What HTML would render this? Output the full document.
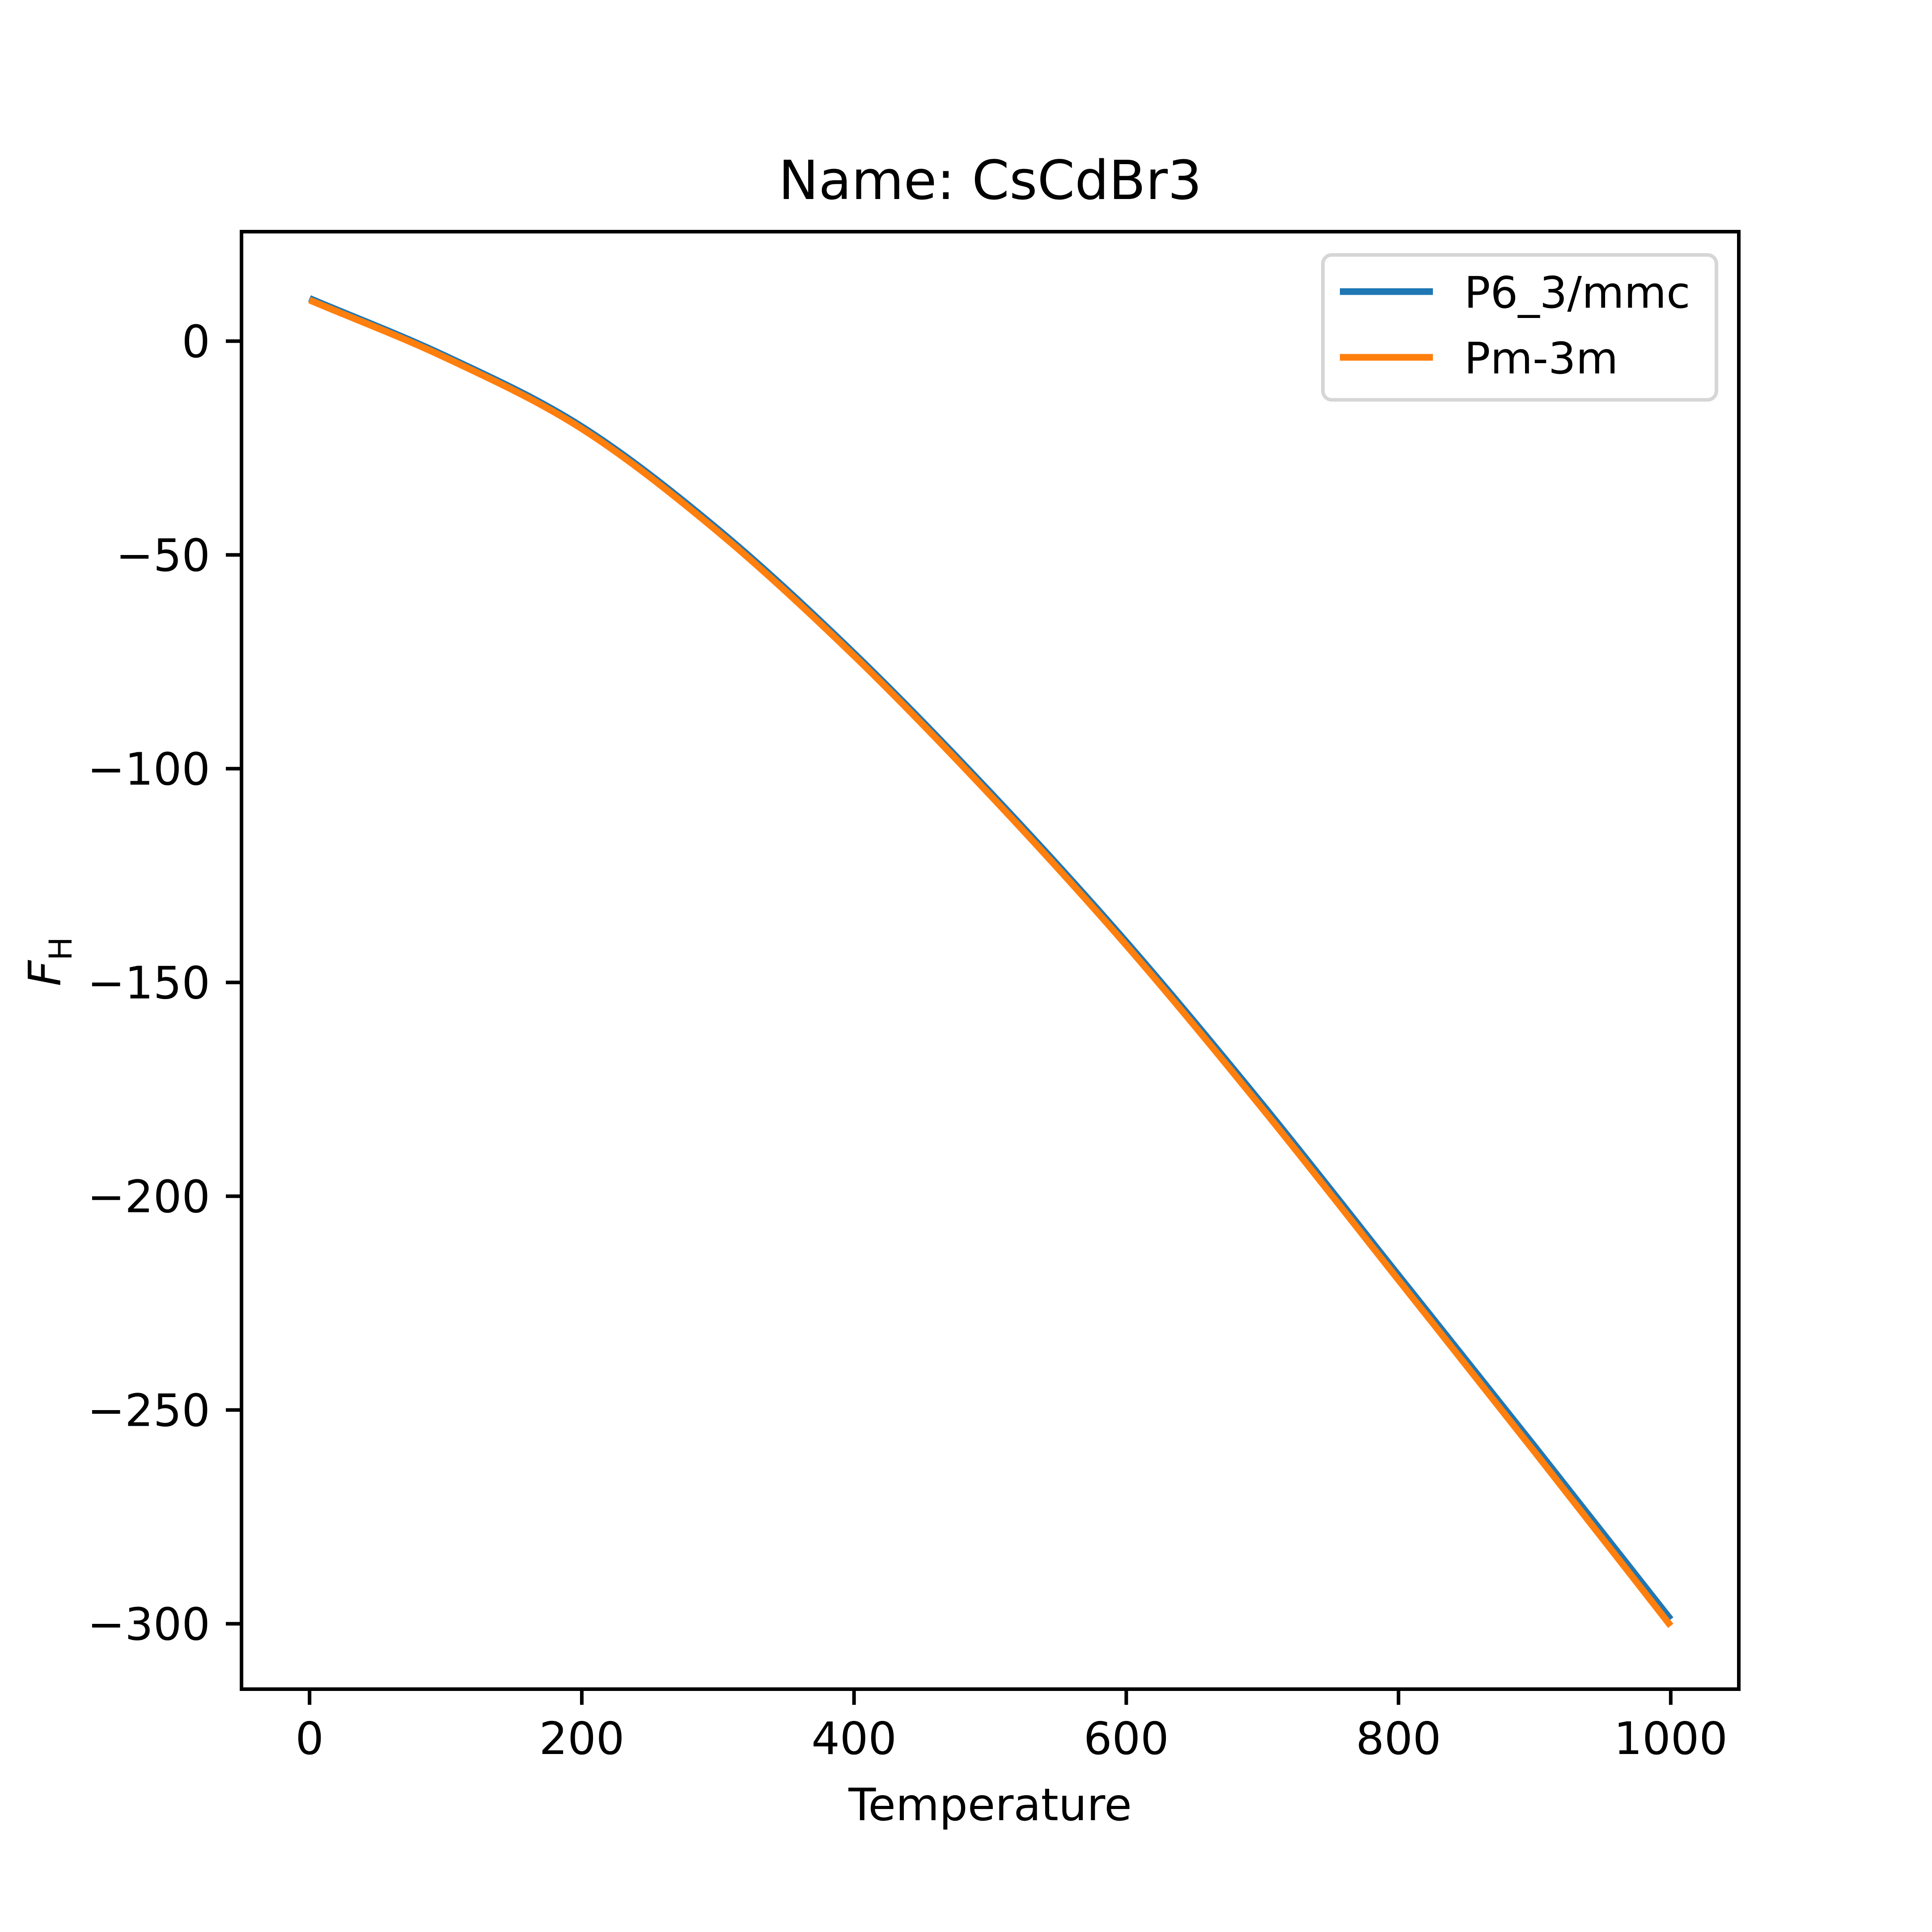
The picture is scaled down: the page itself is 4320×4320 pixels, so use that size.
<!DOCTYPE html>
<html><head><meta charset="utf-8"><style>
html,body{margin:0;padding:0;background:#fff;}
svg{display:block;font-family:"DejaVu Sans","Liberation Sans",sans-serif;}
</style></head><body>
<svg id="chart" width="4320" height="4320" viewBox="0 0 4320 4320" xmlns="http://www.w3.org/2000/svg">
<rect width="4320" height="4320" fill="#fff"/>
<text x="2214" y="445" font-size="120" text-anchor="middle">Name: CsCdBr3</text>
<g id="plot"></g>
<text x="2214" y="4070" font-size="100" text-anchor="middle">Temperature</text>
<text transform="translate(135,2150) rotate(-90)" font-size="100" text-anchor="middle"><tspan font-style="italic">F</tspan><tspan font-size="70" dy="25">H</tspan></text>
</svg>
<script>
const temps = [0,100,200,300,400,500,600,700,800,900,1000];
const blueVals = [10,-3.5,-20,-44,-73,-105.5,-140.5,-178.5,-218.5,-258.5,-299];
const orangeVals = [9.6,-3.9,-20.5,-44.6,-73.6,-106.2,-141.3,-179.5,-219.6,-259.8,-300.5];
const xTicks = [0,200,400,600,800,1000];
const yTicks = [0,-50,-100,-150,-200,-250,-300];
const seriesNames = ["P6_3/mmc","Pm-3m"];

const L=540,R=3888,T=518,B=3777;
const xMin=-50,xMax=1050,yMin=-315.3,yMax=25.6;
const sx=v=>L+(v-xMin)/(xMax-xMin)*(R-L);
const sy=v=>B-(v-yMin)/(yMax-yMin)*(B-T);
const NS="http://www.w3.org/2000/svg";
const g=document.getElementById('plot');
function mk(tag,attrs,parent){const e=document.createElementNS(NS,tag);for(const k in attrs)e.setAttribute(k,attrs[k]);(parent||g).appendChild(e);return e;}

function smoothPath(xs,ys){
  const p=xs.map((x,i)=>[sx(x),sy(ys[i])]);
  let d=`M${p[0][0]},${p[0][1]}`;
  for(let i=0;i<p.length-1;i++){
    const p0=p[i-1]||p[i],p1=p[i],p2=p[i+1],p3=p[i+2]||p[i+1];
    const k0=p[i-1]?6:3,k1=p[i+2]?6:3;
    const c1=[p1[0]+(p2[0]-p0[0])/k0,p1[1]+(p2[1]-p0[1])/k0];
    const c2=[p2[0]-(p3[0]-p1[0])/k1,p2[1]-(p3[1]-p1[1])/k1];
    d+=` C${c1[0]},${c1[1]} ${c2[0]},${c2[1]} ${p2[0]},${p2[1]}`;
  }
  return d;
}

let bl=mk('path',{d:smoothPath(temps,blueVals),fill:'none',stroke:'#1f77b4','stroke-width':15});


let ol=mk('path',{d:smoothPath(temps,orangeVals),fill:'none',stroke:'#ff7f0e','stroke-width':15});



let fr=mk('rect',{x:L,y:T,width:R-L,height:B-T,fill:'none',stroke:'#000','stroke-width':8});



xTicks.forEach(v=>{
  const x=sx(v);
  let t=mk('line',{x1:x,x2:x,y1:B,y2:B+35,stroke:'#000','stroke-width':8});
  
  
  let lb=mk('text',{x:x,y:B+145,'font-size':100,'text-anchor':'middle'});
  lb.textContent=String(v);
  
  
});
yTicks.forEach(v=>{
  const y=sy(v);
  let t=mk('line',{x1:L-35,x2:L,y1:y,y2:y,stroke:'#000','stroke-width':8});
  
  
  let lb=mk('text',{x:L-70,y:y+36,'font-size':100,'text-anchor':'end'});
  lb.textContent=v<0?'\u2212'+Math.abs(v):String(v);
  
  
});

const lg=mk('g',{});


mk('rect',{x:2958,y:570,width:880,height:324,rx:20,fill:'#fff','fill-opacity':0.8,stroke:'#d6d6d6','stroke-width':8},lg);
const cols=['#1f77b4','#ff7f0e'];
seriesNames.forEach((n,i)=>{
  const y=652+i*147;
  let ln=mk('line',{x1:2996,x2:3204,y1:y,y2:y,stroke:cols[i],'stroke-width':15},lg);
  
  
  let tx=mk('text',{x:3274,y:y+36,'font-size':97},lg);
  tx.textContent=n;
  
  
});
</script>
</body></html>
